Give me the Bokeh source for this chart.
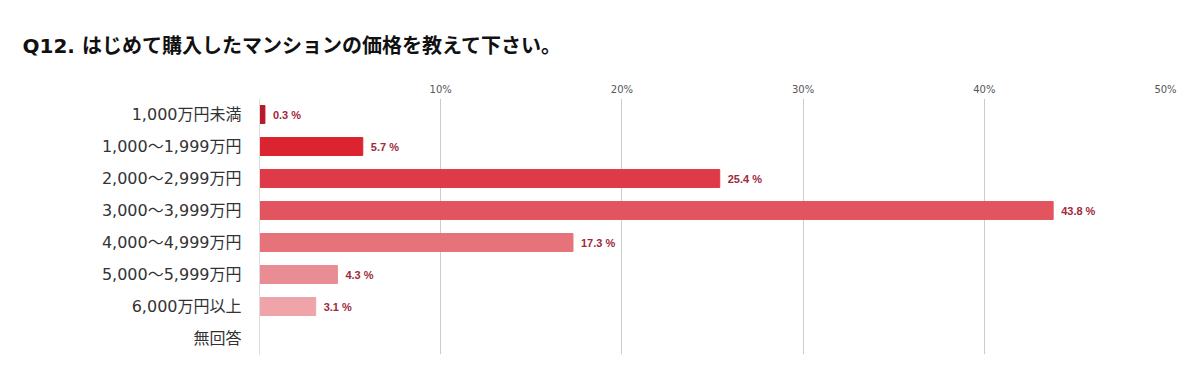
from bokeh.plotting import figure
from bokeh.models import ColumnDataSource, FactorRange, LinearAxis, FixedTicker, Range1d, Title
from bokeh.core.properties import value
from bokeh.embed import file_html
from bokeh.resources import INLINE

categories = ["1,000万円未満", "1,000～1,999万円", "2,000～2,999万円", "3,000～3,999万円",
              "4,000～4,999万円", "5,000～5,999万円", "6,000万円以上", "無回答"]
values = [0.3, 5.7, 25.4, 43.8, 17.3, 4.3, 3.1, None]
colors = ["#b8192b", "#dc2330", "#df3a48", "#e2555f", "#e6727a", "#ea8c93", "#eea4a9", "#ffffff"]
tick_values = [10, 20, 30, 40, 50]
tick_labels = {10: "10%", 20: "20%", 30: "30%", 40: "40%", 50: "50%"}
title_text = "Q12. はじめて購入したマンションの価格を教えて下さい。"

bar_cats = [c for c, v in zip(categories, values) if v is not None]
bar_vals = [v for v in values if v is not None]
bar_cols = [c for c, v in zip(colors, values) if v is not None]
src = ColumnDataSource(dict(cat=bar_cats, val=bar_vals, col=bar_cols,
                            lab=[f"{v} %" for v in bar_vals]))

FONT = "DejaVu Sans, Noto Sans CJK JP"

p = figure(width=1200, height=381, y_range=FactorRange(*reversed(categories)),
           x_range=Range1d(0, 50), output_backend="svg", toolbar_location=None,
           min_border_left=259, min_border_right=35, min_border_top=98, min_border_bottom=27,
           x_axis_location=None)
p.outline_line_color = None
p.background_fill_color = "white"

p.hbar(y="cat", right="val", left=0, height=0.56, color="col", source=src)
p.text(x="val", y="cat", text="lab", source=src, x_offset=8, text_baseline="middle",
       text_font=value("Liberation Sans"), text_font_style="bold", text_font_size="11px",
       text_color="#a0283a")

top = LinearAxis(ticker=FixedTicker(ticks=tick_values), major_label_overrides=tick_labels)
top.axis_line_color = None
top.major_tick_line_color = None
top.minor_tick_line_color = None
top.major_label_standoff = -2
top.major_label_text_font = "DejaVu Sans"
top.major_label_text_font_size = "10px"
top.major_label_text_color = "#555555"
p.add_layout(top, "above")
p.add_layout(Title(text=" ", text_font_size="6px"), "above")

p.xgrid.ticker = FixedTicker(ticks=tick_values)
p.xgrid.grid_line_color = "#cccccc"
p.ygrid.grid_line_color = None

ya = p.yaxis[0]
ya.axis_line_color = "#dddddd"
ya.major_tick_line_color = None
ya.minor_tick_line_color = None
ya.major_label_standoff = 12
ya.major_label_text_font = FONT
ya.major_label_text_font_size = "16px"
ya.major_label_text_color = "#333333"

p.title.text = title_text
p.title.text_font = FONT
p.title.text_font_size = "20px"
p.title.text_font_style = "bold"
p.title.text_color = "#111111"
p.title.align = "left"
p.title.offset = -237

open("out.html", "w").write(file_html(p, INLINE))
